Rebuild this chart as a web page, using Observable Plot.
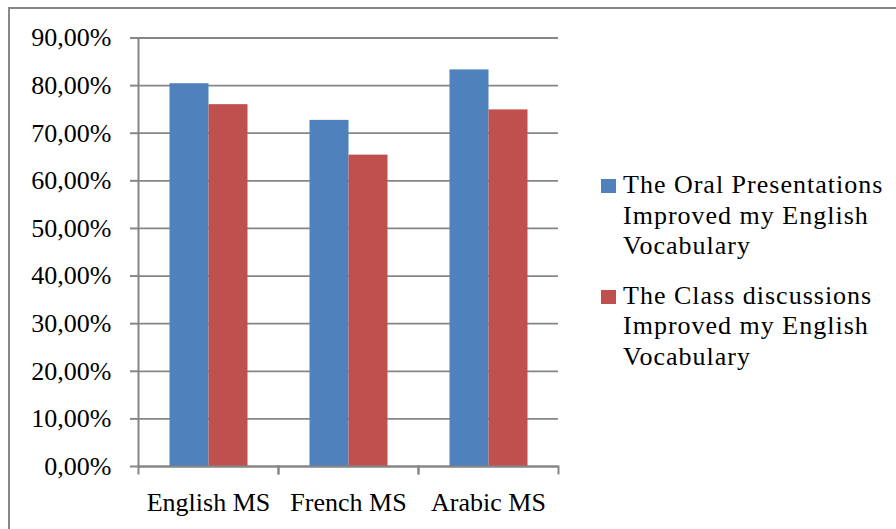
<!DOCTYPE html>
<html>
<head>
<meta charset="utf-8">
<script src="https://cdn.jsdelivr.net/npm/d3@7"></script>
<script src="https://cdn.jsdelivr.net/npm/@observablehq/plot@0.6"></script>
<style>
  html, body { margin: 0; padding: 0; background: #fff; overflow: hidden; }
  #wrap { position: relative; width: 896px; height: 529px; }
  #border { position: absolute; left: 8px; top: 7px; width: 900px; height: 540px; border: 2px solid #878787; box-sizing: border-box; }
  #chart { position: absolute; left: 0; top: 0; }
  #legend { position: absolute; left: 601px; top: 170px; width: 290px; font-family: "Liberation Serif", serif; font-size: 26px; line-height: 30.5px; color: #000; }
  .item { position: relative; padding-left: 22px; margin-bottom: 19px; letter-spacing: 1px; width: 262px; }
  .sw { position: absolute; left: 0; top: 9px; width: 15px; height: 14px; }
</style>
</head>
<body>
<div id="wrap">
  <div id="border"></div>
  <div id="chart"></div>
  <div id="legend"></div>
</div>
<script>
const categories = ["English MS", "French MS", "Arabic MS"];
const seriesNames = [
  "The Oral Presentations Improved my English Vocabulary",
  "The Class discussions Improved my English Vocabulary"
];
const oralValues = [80.4, 72.7, 83.3];
const discussionValues = [76.0, 65.4, 74.9];
const yTicks = [0, 10, 20, 30, 40, 50, 60, 70, 80, 90];
const seriesColors = ["#4f81bd", "#c0504d"];

const rows = [];
categories.forEach((c, i) => {
  rows.push({cat: c, series: seriesNames[0], value: oralValues[i]});
  rows.push({cat: c, series: seriesNames[1], value: discussionValues[i]});
});

const gray = "#868686";
const fmt = d => d.toFixed(2).replace(".", ",") + "%";
const plotH = 529 - 37.5 - 63;

const chart = Plot.plot({
  width: 896,
  height: 529,
  marginLeft: 137.5,
  marginRight: 337,
  marginTop: 37.5,
  marginBottom: 63,
  style: {fontFamily: "'Liberation Serif', serif", fontSize: "26px", color: "#000", background: "transparent"},
  fx: {domain: categories, padding: 0, label: null},
  x: {domain: seriesNames, paddingInner: 0, paddingOuter: 0.77, axis: null},
  y: {domain: [0, 90], label: null},
  color: {domain: seriesNames, range: seriesColors},
  marks: [
    Plot.ruleY(yTicks, {stroke: gray, strokeWidth: 1.8}),
    Plot.barY(rows, {fx: "cat", x: "series", y: "value", fill: "series"}),
    Plot.ruleY([0], {stroke: gray, strokeWidth: 2}),
    Plot.frame({anchor: "left", fx: categories[0], stroke: gray, strokeWidth: 2}),
    Plot.frame({anchor: "left", stroke: gray, strokeWidth: 2, insetTop: plotH, insetBottom: -7}),
    Plot.frame({anchor: "right", stroke: gray, strokeWidth: 2, insetTop: plotH, insetBottom: -7}),
    Plot.axisY({ticks: yTicks, tickFormat: fmt, tickSize: 8, tickPadding: 19, stroke: gray, strokeWidth: 2, label: null, fill: "#000"}),
    Plot.axisFx({anchor: "bottom", tickSize: 0, tickPadding: 26, label: null, fill: "#000"})
  ]
});
document.getElementById("chart").appendChild(chart);

const legend = document.getElementById("legend");
seriesNames.forEach((name, i) => {
  const item = document.createElement("div");
  item.className = "item";
  const sw = document.createElement("span");
  sw.className = "sw";
  sw.style.background = seriesColors[i];
  item.appendChild(sw);
  item.appendChild(document.createTextNode(name));
  legend.appendChild(item);
});
</script>
</body>
</html>
